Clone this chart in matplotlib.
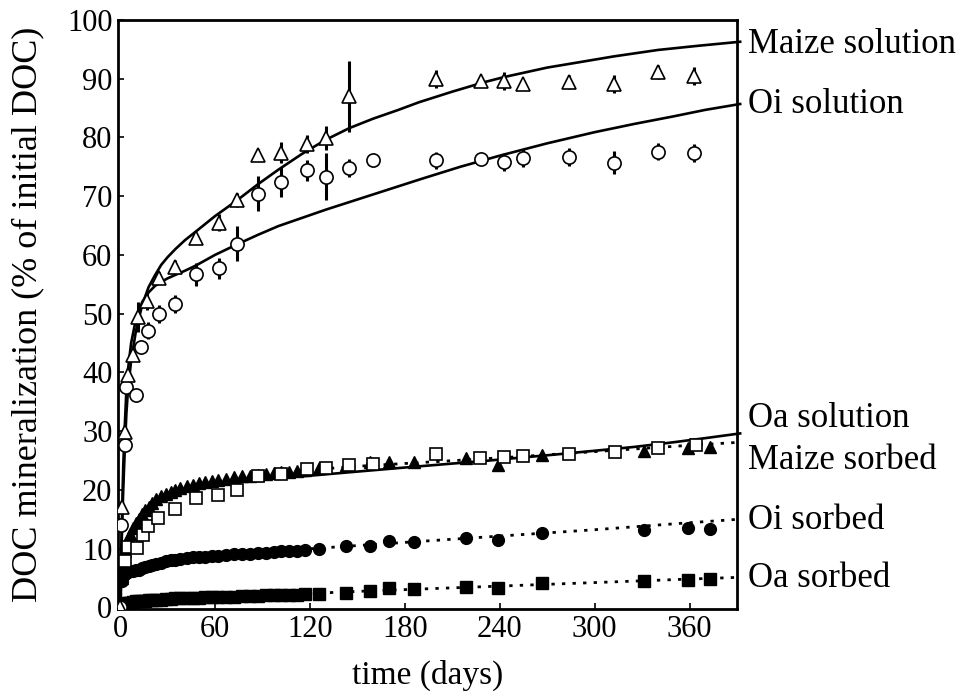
import matplotlib
matplotlib.use("Agg")
import matplotlib.pyplot as plt
import matplotlib.transforms as mtransforms

plt.rcParams["font.family"] = ["Liberation Serif", "DejaVu Serif"]

# --- solution experiments (open symbols, with error bars) ---
maize_sol_days = [0, 1, 3, 5, 8, 11.5, 17, 24.5, 34.5, 48, 62.5, 74, 87.5, 102, 118, 130, 145,
                  200, 228, 243, 255, 283.5, 312, 340, 363]
maize_sol = [0, 17, 29.8, 39.6, 43, 49.4, 52.2, 56.1, 58, 62.8, 65.5, 69.3, 77, 77.4, 78.9, 79.9, 87,
             90, 89.7, 89.6, 89.1, 89.4, 89.1, 91.2, 90.5]
maize_sol_err = [0, 0.5, 0.8, 0.8, 1, 2.5, 1.5, 1, 1.2, 1, 1.5, 1.2, 1, 1.8, 1.5, 2, 6,
                 1.5, 0.8, 1.5, 0.8, 1.2, 1.5, 1.2, 1.5]

oi_sol_days = [0, 0.5, 3, 4, 10, 13, 17.4, 24.3, 34.8, 48.2, 62.5, 74, 87.4, 102, 118, 130, 145, 160,
               200, 228, 243, 255, 283.5, 312, 340, 363]
oi_sol = [0, 14, 27.6, 37.5, 36.1, 44.3, 47.1, 49.9, 51.6, 56.7, 57.7, 61.9, 70.4, 72.4, 74.4, 73.3, 74.8, 76.1,
          76.1, 76.3, 75.8, 76.5, 76.7, 75.7, 77.6, 77.4]
oi_sol_err = [0, 0.5, 0.8, 0.8, 1, 1, 1.5, 1.5, 1.5, 2, 1.8, 3, 3, 2.5, 1.8, 4, 1.5, 0.5,
              1.5, 0.8, 1.5, 1.5, 1.5, 2, 1.5, 1.5]

oa_sol_days = [0, 3, 5, 11, 14.7, 17.8, 24, 34.6, 48.2, 62, 74, 87.4, 102, 118, 130, 145, 160,
               200, 227.5, 243, 255, 283.5, 313, 340, 364]
oa_sol = [0, 7.8, 10.3, 10.1, 12.3, 13.8, 15.2, 16.7, 18.6, 19.1, 20, 22.3, 22.7, 23.6, 23.7, 24.2, 24.4,
          26.1, 25.4, 25.5, 25.8, 26.1, 26.4, 27.1, 27.6]

# --- sorbed experiments (filled symbols), common sampling days ---
sorbed_days = [0, 1, 2, 3, 4, 5, 6, 8, 10, 12, 14, 16, 18, 20, 23, 26, 29, 32, 35, 38, 42, 46, 50,
               54, 58, 62, 67, 72, 77, 82, 87, 92, 97, 102, 107, 112, 117,
               126, 143, 158, 170, 186, 219, 239, 267, 331, 359, 373]
maize_sorbed = [0, 5, 7.5, 9.5, 10.8, 11.7, 12.4, 13.5, 14.3, 15, 15.8, 16.5, 17.1, 17.7, 18.4, 18.9, 19.3,
                19.7, 20, 20.3, 20.6, 20.9, 21.1, 21.3, 21.5, 21.7, 21.9, 22.1, 22.3, 22.4, 22.5, 22.7,
                22.8, 23, 23.1, 23.2, 23.3,
                23.7, 24.2, 24.7, 24.7, 24.8, 25.4, 24.2, 25.9, 26.6, 27.1, 27.3]
oi_sorbed = [0, 4.5, 5.3, 5.7, 5.9, 6, 6.1, 6.2, 6.3, 6.4, 6.6, 6.8, 7, 7.2, 7.4, 7.6, 7.8, 8, 8.1, 8.2,
             8.4, 8.5, 8.6, 8.6, 8.7, 8.8, 8.9, 9, 9, 9.1, 9.2, 9.3, 9.4, 9.5, 9.5, 9.6, 9.7,
             10, 10.4, 10.5, 11.2, 11.1, 11.8, 11.4, 12.6, 13.1, 13.5, 13.4]
oa_sorbed = [0, 0.3, 0.5, 0.6, 0.7, 0.8, 0.8, 0.9, 1, 1, 1.1, 1.1, 1.2, 1.2, 1.3, 1.3, 1.4, 1.4, 1.5,
             1.5, 1.5, 1.6, 1.6, 1.7, 1.7, 1.7, 1.8, 1.8, 1.9, 1.9, 1.9, 2, 2, 2.1, 2.1, 2.1, 2.2,
             2.2, 2.5, 2.8, 3.2, 3.1, 3.5, 3.2, 4.2, 4.5, 4.6, 4.75]

# --- model fit curves ---
maize_fit_days = [0, 1, 2, 3, 4, 5, 7, 10, 14, 18, 22, 26, 30, 35, 41, 48, 60, 74, 87, 100, 115,
                  130, 145, 160, 176, 189, 210, 230, 243, 270, 290, 312, 340, 365, 392]
maize_fit = [0, 11, 20, 27, 33, 37, 42, 47, 51.5, 54.5, 56.5, 58.3, 59.6, 61, 62.5, 64, 66.6, 69.3, 72,
             74.5, 77.2, 79.6, 81.6, 83.2, 84.7, 86, 87.8, 89.4, 90.3, 91.9, 92.8, 93.8, 94.9, 95.6, 96.3]
oi_fit_days = [0, 1, 2, 3, 4, 5, 7, 10, 14, 18, 22, 26, 30, 35, 41, 48, 60, 74, 87, 100, 115,
               130, 145, 160, 175, 190, 215, 240, 270, 300, 325, 350, 370, 392]
oi_fit = [0, 13, 24, 31, 37, 40.5, 45, 49, 52, 53.6, 54.7, 55.4, 56, 56.6, 57.3, 58.2, 60, 61.8, 63.4,
          64.9, 66.3, 67.7, 69, 70.3, 71.6, 72.9, 75, 76.9, 79, 80.9, 82.3, 83.6, 84.7, 85.7]
oa_fit_days = [0, 1, 2, 3, 4, 6, 8, 11.5, 15, 18, 22, 27, 32.5, 40, 53.5, 67, 82, 100, 120, 150,
               176, 207, 230, 250, 275, 302, 325, 350, 370, 392]
oa_fit = [0, 5, 7.6, 9.5, 10.7, 12.2, 13.3, 14.8, 16.1, 17, 18, 18.8, 19.5, 20, 20.8, 21.2, 21.6, 22,
          22.4, 23.1, 23.7, 24.4, 24.9, 25.4, 26, 26.7, 27.3, 28.1, 28.8, 29.6]
maize_sorbed_fit_days = [100, 150, 200, 250, 300, 350, 392]
maize_sorbed_fit = [23, 24, 24.8, 25.6, 26.5, 27.4, 28.1]
oi_sorbed_fit_days = [0, 1, 5, 20, 50, 100, 150, 200, 250, 300, 350, 392]
oi_sorbed_fit = [0, 4.5, 6, 7.2, 8.6, 9.6, 10.5, 11.4, 12.3, 13.2, 14.2, 15]
oa_sorbed_fit_days = [0, 10, 50, 100, 150, 200, 250, 300, 350, 392]
oa_sorbed_fit = [0, 1, 1.6, 2.1, 2.7, 3.2, 3.7, 4.2, 4.7, 5.1]

right_labels = ["Maize solution", "Oi solution", "Oa solution", "Maize sorbed", "Oi sorbed", "Oa sorbed"]
right_label_y = [95.8, 85.6, 32.1, 25.0, 14.8, 4.9]

fig = plt.figure(figsize=(9.61, 7.0), dpi=100)
ax = fig.add_axes([0.1228, 0.13, 0.6441, 0.8414])

# fits (solid for solution, dotted for sorbed)
for d, v in [(maize_fit_days, maize_fit), (oi_fit_days, oi_fit), (oa_fit_days, oa_fit)]:
    ax.plot(d, v, color="black", lw=1.9, zorder=2, clip_on=False)
dot = (0, (1.2, 2.6))
for d, v in [(maize_sorbed_fit_days, maize_sorbed_fit), (oi_sorbed_fit_days, oi_sorbed_fit),
             (oa_sorbed_fit_days, oa_sorbed_fit)]:
    ax.plot(d, v, color="black", lw=2.0, ls=dot, zorder=2, clip_on=False)

# sorbed data
ax.plot(sorbed_days, oa_sorbed, ls="none", marker="s", ms=8, color="black", zorder=3)
ax.plot(sorbed_days, oi_sorbed, ls="none", marker="o", ms=8.5, color="black", zorder=3)
ax.plot(sorbed_days, maize_sorbed, ls="none", marker="^", ms=8.5, color="black", zorder=3)

# solution data
ax.plot(oa_sol_days, oa_sol, ls="none", marker="s", ms=9, mfc="white", mec="black", mew=1.2, zorder=4)
ax.errorbar(oi_sol_days, oi_sol, yerr=oi_sol_err, fmt="o", ms=9.5, mfc="white", mec="black",
            mew=1.2, ecolor="black", elinewidth=2.2, capsize=0, zorder=4)
ax.errorbar(maize_sol_days, maize_sol, yerr=maize_sol_err, fmt="^", ms=10, mfc="white", mec="black",
            mew=1.2, ecolor="black", elinewidth=2.2, capsize=0, zorder=4)

ax.set_xlim(-1.3, 390)
ax.set_ylim(-0.3, 100)
ax.set_xticks([0, 60, 120, 180, 240, 300, 360])
ax.set_yticks(range(0, 101, 10))
ax.tick_params(direction="in", length=4, width=1.2, labelsize=22, pad=4)
for side in ax.spines.values():
    side.set_linewidth(2.0)

ax.set_xlabel("time (days)", fontsize=24, labelpad=12)
ax.set_ylabel("DOC mineralization (% of initial DOC)", fontsize=26, labelpad=16)

trans = mtransforms.blended_transform_factory(ax.transAxes, ax.transData)
for name, yv in zip(right_labels, right_label_y):
    ax.text(1.018, yv, name, transform=trans, fontsize=25, va="center", ha="left")

fig.savefig("out.png", dpi=100)
